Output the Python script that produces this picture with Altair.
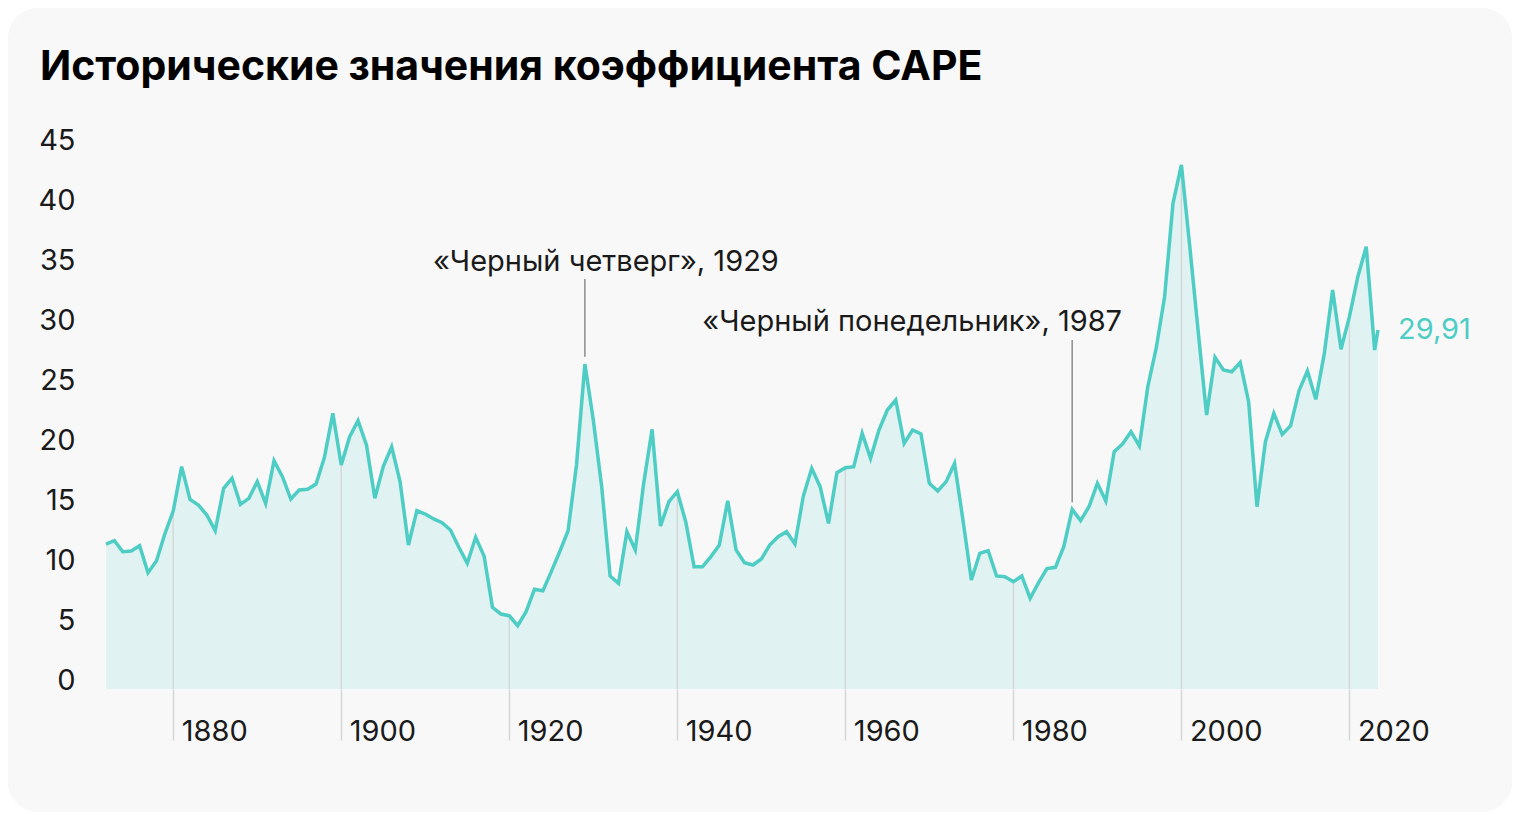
import altair as alt
import pandas as pd

# ---------------- data ----------------
years = list(range(1872, 2024)) + [2023.4]
cape = [
    12.08, 12.36, 11.44, 11.50, 11.94, 9.69, 10.67, 12.92,            # 1872-1879
    14.83, 18.53, 15.80, 15.33, 14.50, 13.20, 16.72, 17.56, 15.39, 15.89,  # 1880-1889
    17.28, 15.47, 19.03, 17.69, 15.83, 16.58, 16.64, 17.08, 19.30, 22.97,  # 1890-1899
    18.67, 21.03, 22.36, 20.33, 15.89, 18.53, 20.19, 17.28, 12.00, 14.86,  # 1900-1909
    14.58, 14.17, 13.86, 13.25, 11.81, 10.47, 12.64, 11.08, 6.80, 6.25,    # 1910-1919
    6.11, 5.28, 6.44, 8.31, 8.19, 9.78, 11.44, 13.19, 18.67, 27.08,        # 1920-1929
    22.42, 16.86, 9.42, 8.81, 13.11, 11.58, 17.14, 21.64, 13.58, 15.61,    # 1930-1939
    16.44, 13.94, 10.19, 10.19, 11.03, 12.00, 15.69, 11.58, 10.53, 10.33,  # 1940-1949
    10.83, 12.00, 12.69, 13.11, 12.08, 16.08, 18.39, 16.86, 13.80, 18.03,  # 1950-1959
    18.44, 18.53, 21.31, 19.22, 21.58, 23.25, 24.08, 20.47, 21.58, 21.25,  # 1960-1969
    17.14, 16.50, 17.28, 18.80, 14.08, 9.08, 11.31, 11.53, 9.42, 9.36,     # 1970-1979
    8.94, 9.42, 7.56, 8.86, 10.03, 10.14, 11.86, 14.97, 14.03, 15.19,      # 1980-1989
    17.14, 15.67, 19.78, 20.42, 21.44, 20.25, 25.19, 28.40, 32.69, 40.47,  # 1990-1999
    43.67, 36.86, 29.78, 22.83, 27.64, 26.58, 26.44, 27.22, 23.94, 15.19,  # 2000-2009
    20.61, 22.97, 21.22, 21.94, 24.86, 26.50, 24.14, 27.92, 33.25, 28.31,  # 2010-2019
    31.03, 34.36, 36.86, 28.25,                                            # 2020-2023
    29.91,                                                                 # 2023 (latest)
]
tick_years = [1880, 1900, 1920, 1940, 1960, 1980, 2000, 2020]
y_ticks = [0, 5, 10, 15, 20, 25, 30, 35, 40, 45]
title_text = "Исторические значения коэффициента CAPE"
ann_years = [1929, 1987]
ann_labels = ["«Черный четверг», 1929", "«Черный понедельник», 1987"]
ann_text_level = [34.83, 29.83]
ann_line_top = [34.17, 29.08]
last_label = "29,91"

# ---------------- styles ----------------
FONT = "Inter"
TEAL = "#4ecdc4"
AREA = "#e0f2f1"
INK = "#1a1a1a"
RULE = "#d4d8d8"
LBL = 29
W, H = 1272, 540
PAD = {"left": 98, "top": 141, "right": 134, "bottom": 123}

df = pd.DataFrame({"year": years, "cape": cape})
ann = pd.DataFrame({
    "year": ann_years,
    "label": ann_labels,
    "text_y": ann_text_level,
    "top": ann_line_top,
    "bottom": [cape[years.index(y)] + 0.6 for y in ann_years],
})
last = pd.DataFrame({"year": [years[-1]], "cape": [cape[-1]], "label": [last_label]})

x_scale = alt.Scale(domain=[years[0], years[-1]], nice=False, zero=False)
y_scale = alt.Scale(domain=[0, 45], nice=False, zero=True)

x_axis = alt.Axis(values=tick_years, format="d", title=None, domain=False, grid=False,
                  ticks=True, tickSize=51, tickColor=RULE, tickWidth=1.5,
                  labelAlign="left", labelBaseline="alphabetic", labelPadding=0,
                  labelOffset=8, labelFontSize=LBL, labelFont=FONT, labelColor=INK,
                  labelFlush=False, labelOverlap=False, zindex=1)
y_axis = alt.Axis(values=y_ticks, title=None, domain=False, grid=False, ticks=False,
                  tickSize=0, labelPadding=31, labelAlign="right",
                  labelBaseline="alphabetic", labelFontSize=LBL, labelFont=FONT,
                  labelColor=INK, zindex=1)


def X(field="year"):
    return alt.X(f"{field}:Q", scale=x_scale, axis=x_axis, title=None)


def Y(field="cape"):
    return alt.Y(f"{field}:Q", scale=y_scale, axis=y_axis, title=None)


one = pd.DataFrame({"k": [0]})
bg = alt.Chart(one).mark_rect(color="#f8f8f8", cornerRadius=30).encode(
    x=alt.value(-PAD["left"]), x2=alt.value(W + PAD["right"]),
    y=alt.value(-PAD["top"]), y2=alt.value(H + PAD["bottom"]))

area = alt.Chart(df).mark_area(color=AREA, opacity=1).encode(x=X(), y=Y())

year_rules = alt.Chart(df).mark_rule(color=RULE, strokeWidth=1.5).encode(
    x=X(), y=Y(), y2=alt.datum(0)
).transform_filter(alt.FieldOneOfPredicate(field="year", oneOf=tick_years))

line = alt.Chart(df).mark_line(color=TEAL, strokeWidth=3.5).encode(x=X(), y=Y())

ann_rules = alt.Chart(ann).mark_rule(color="#8c8c8c", strokeWidth=1.5).encode(
    x=X(), y=Y("top"), y2="bottom:Q")

ann_t1 = alt.Chart(ann.iloc[[0]]).mark_text(
    align="center", baseline="alphabetic", dx=21, font=FONT, fontSize=LBL, color=INK
).encode(x=X(), y=Y("text_y"), text="label:N")
ann_t2 = alt.Chart(ann.iloc[[1]]).mark_text(
    align="center", baseline="alphabetic", dx=-160, font=FONT, fontSize=LBL, color=INK
).encode(x=X(), y=Y("text_y"), text="label:N")

end_label = alt.Chart(last).mark_text(
    align="left", baseline="middle", dx=20, font=FONT, fontSize=LBL, color=TEAL
).encode(x=X(), y=Y(), text="label:N")

title = alt.Chart(pd.DataFrame({"t": [title_text]})).mark_text(
    align="left", baseline="alphabetic", font=FONT, fontSize=41, fontWeight="bold",
    color="#000000"
).encode(x=alt.value(-66), y=alt.value(-69), text="t:N")

chart = alt.layer(
    bg, area, year_rules, line, ann_rules, ann_t1, ann_t2, end_label, title
).properties(
    width=W, height=H, padding=PAD,
    autosize=alt.AutoSizeParams(type="none"), background="white"
).configure_view(stroke=None)

chart.save("out.html", embed_options={"renderer": "svg", "actions": False})
